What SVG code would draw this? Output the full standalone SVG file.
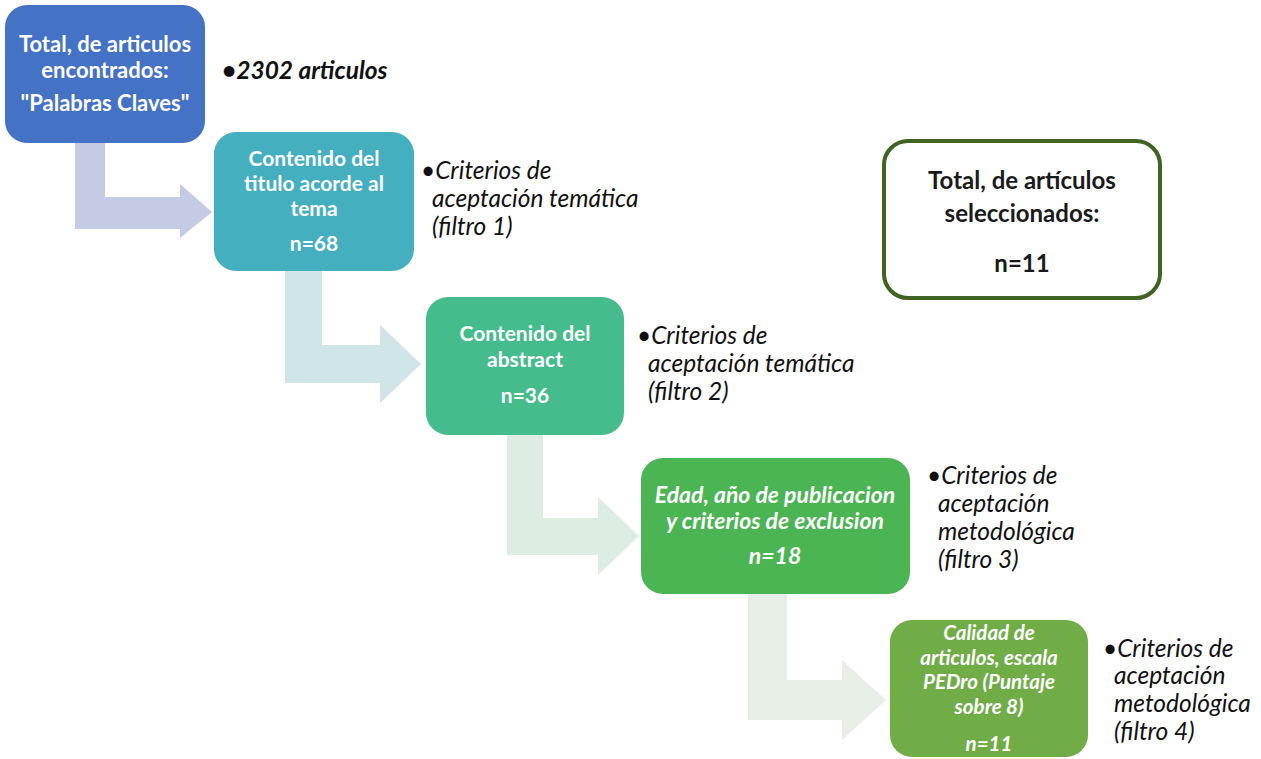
<svg xmlns="http://www.w3.org/2000/svg" width="1261" height="759" viewBox="0 0 1261 759">
<style>
.bx{font-family:Lato,"Open Sans",sans-serif;font-weight:bold;fill:#fff;text-anchor:middle;font-size:21px}
.it{font-style:italic}
.lb{font-family:Lato,"Open Sans",sans-serif;font-style:italic;fill:#111;font-size:24.5px}
.blk{fill:#1a1a1a}
</style>
<rect width="1261" height="759" fill="#fff"/>
<g id="connectors">
<path d="M75 143 H105 V197 H180 V184 L212 212 L180 238 V229 H75 Z" fill="#C5CBE5"/>
<path d="M285 271 H322 V345 H380 V325 L421 364 L380 403 V383 H285 Z" fill="#D0E5E8"/>
<path d="M507 435 H543 V518 H598 V497 L639 536 L598 575 V555 H507 Z" fill="#DDEDE2"/>
<path d="M748 594 H787 V680 H842 V660 L886 700 L842 740 V720 H748 Z" fill="#E7EEE5"/>
</g>
<g id="n1">
<rect x="5" y="5" width="200" height="138" rx="22" fill="#4472C4"/>
<text class="bx" style="font-size:22px"><tspan x="105" y="52">Total, de articulos</tspan><tspan x="105" y="78">encontrados:</tspan><tspan x="105" y="111">"Palabras Claves"</tspan></text>
</g>
<g id="t1"><text class="lb" font-weight="bold" x="222" y="79">•2302 articulos</text></g>
<g id="n2">
<rect x="214" y="132" width="200" height="139" rx="22" fill="#44AFBF"/>
<text class="bx"><tspan x="314" y="166">Contenido del</tspan><tspan x="314" y="191">titulo acorde al</tspan><tspan x="314" y="216">tema</tspan><tspan x="314" y="251">n=68</tspan></text>
</g>
<g id="t2"><text class="lb"><tspan x="421" y="179">•Criterios de</tspan><tspan x="432" y="207">aceptación temática</tspan><tspan x="432" y="235">(filtro 1)</tspan></text></g>
<g id="n3">
<rect x="426" y="297" width="198" height="138" rx="22" fill="#45BC8C"/>
<text class="bx"><tspan x="525" y="341">Contenido del</tspan><tspan x="525" y="367">abstract</tspan><tspan x="525" y="403">n=36</tspan></text>
</g>
<g id="t3"><text class="lb"><tspan x="637" y="344">•Criterios de</tspan><tspan x="648" y="372">aceptación temática</tspan><tspan x="648" y="400">(filtro 2)</tspan></text></g>
<g id="n4">
<rect x="641" y="458" width="269" height="136" rx="22" fill="#4AB552"/>
<text class="bx it" style="font-size:23px"><tspan x="775" y="503">Edad, año de publicacion</tspan><tspan x="775" y="529">y criterios de exclusion</tspan><tspan x="775" y="564">n=18</tspan></text>
</g>
<g id="t4"><text class="lb"><tspan x="927" y="484">•Criterios de</tspan><tspan x="938" y="512">aceptación</tspan><tspan x="938" y="540">metodológica</tspan><tspan x="938" y="568">(filtro 3)</tspan></text></g>
<g id="n5">
<rect x="890" y="620" width="198" height="137" rx="22" fill="#70AD47"/>
<text class="bx it" style="font-size:20.5px"><tspan x="989" y="640">Calidad de</tspan><tspan x="989" y="664.5">articulos, escala</tspan><tspan x="989" y="689">PEDro (Puntaje</tspan><tspan x="989" y="713.5">sobre 8)</tspan><tspan x="989" y="751">n=11</tspan></text>
</g>
<g id="t5"><text class="lb"><tspan x="1103" y="657">•Criterios de</tspan><tspan x="1114" y="684">aceptación</tspan><tspan x="1114" y="712">metodológica</tspan><tspan x="1114" y="740">(filtro 4)</tspan></text></g>
<g id="n6">
<rect x="884" y="141" width="276" height="157" rx="24" fill="#fff" stroke="#3F6321" stroke-width="4"/>
<text class="bx blk" style="font-size:24px"><tspan x="1022" y="189">Total, de artículos</tspan><tspan x="1022" y="222">seleccionados:</tspan><tspan x="1022" y="272">n=11</tspan></text>
</g>
</svg>
